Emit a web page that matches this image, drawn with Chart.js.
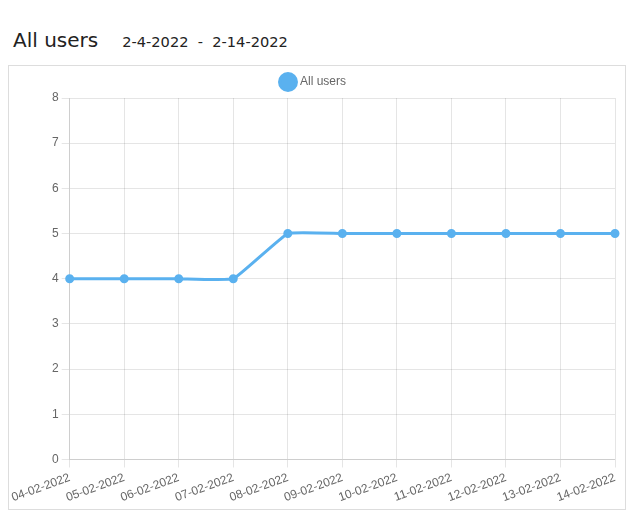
<!DOCTYPE html>
<html>
<head>
<meta charset="utf-8">
<script src="https://cdn.jsdelivr.net/npm/chart.js@4"></script>
<style>
    body { margin: 0; background: #fff; font-family: "DejaVu Sans", sans-serif; }
    .title { position: absolute; left: 13px; top: 28px; color: #222; white-space: nowrap; }
    .title .name { font-size: 20px; }
    .title .range { font-size: 14.6px; margin-left: 24px; }
    .box { position: absolute; left: 8px; top: 65px; width: 616px; height: 443px; border: 1px solid #ddd; }
</style>
</head>
<body>
<div class="title"><span class="name">All users</span><span class="range">2-4-2022&nbsp; - &nbsp;2-14-2022</span></div>
<div class="box"><canvas id="usersChart"></canvas></div>
<script>
const dayLabels = ['04-02-2022', '05-02-2022', '06-02-2022', '07-02-2022', '08-02-2022', '09-02-2022',
    '10-02-2022', '11-02-2022', '12-02-2022', '13-02-2022', '14-02-2022'];
const userCounts = [4, 4, 4, 4, 5, 5, 5, 5, 5, 5, 5];
const yMin = 0;
const yMax = 8;

Chart.defaults.font.family = '"Liberation Sans", Arial, sans-serif';
Chart.defaults.font.size = 12;
Chart.defaults.color = '#666';

let canvas = document.getElementById('usersChart');
new Chart(canvas, {
    type: 'line',
    data: {
        labels: dayLabels,
        datasets: [
            {
                label: 'All users',
                data: userCounts,
                borderColor: '#5ab1ef',
                backgroundColor: '#5ab1ef',
                borderWidth: 3,
                pointRadius: 3,
                tension: 0.1,
                fill: false
            }
        ]
    },
    options: {
        responsive: true,
        maintainAspectRatio: false,
        animation: false,
        layout: {
            padding: { top: 0, right: 10, left: 4, bottom: 1 }
        },
        plugins: {
            legend: {
                labels: {
                    usePointStyle: true,
                    boxWidth: 14,
                    boxHeight: 14
                }
            }
        },
        scales: {
            x: {
                grid: { color: 'rgba(0,0,0,0.1)' },
                ticks: { maxRotation: 20, minRotation: 20, font: { size: 12 } }
            },
            y: {
                min: yMin,
                max: yMax,
                grid: { color: 'rgba(0,0,0,0.1)' },
                ticks: { stepSize: 1 }
            }
        }
    }
});
</script>
</body>
</html>
